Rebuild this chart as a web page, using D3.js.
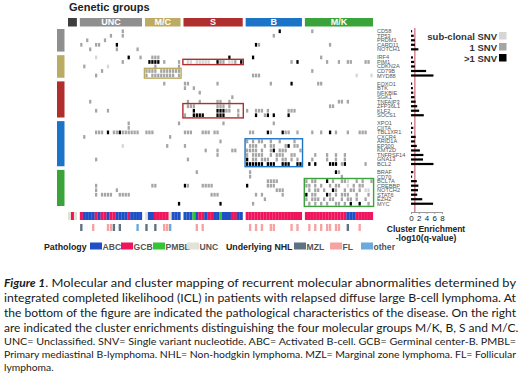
<!DOCTYPE html>
<html>
<head>
<meta charset="utf-8">
<script src="https://cdn.jsdelivr.net/npm/d3@7"></script>
<style>
  body { margin: 0; background: #fff; }
  svg { display: block; font-family: "Liberation Sans", Arial, sans-serif; }
</style>
</head>
<body>
<div id="container"></div>
<script>
/* DATA */
// patient groups (columns) and gene groups (rows)
const colGroups = ["", "UNC", "M/C", "S", "B", "M/K"];
const colGroupSizes = [3, 21, 12, 20, 19, 23];
const rowGroupSizes = [5, 5, 8, 10, 8];

const genes = [
  "CD58", "TP53", "PRDM1", "CARD11", "NOTCH1",
  "IRF4", "PIM1", "CDKN2A", "CD79B", "MYD88",
  "FOXO1", "BTK", "NFKBIE", "SGK1", "TNFAIP3", "ZFP36L1", "KLF2", "SOCS1",
  "XPO1", "CIITA", "TBL1XR1", "CXCR4", "ARID1A", "EP300", "KMT2D", "TNFRSF14", "GNA13", "BCL2",
  "BRAF", "CD70", "BCL7A", "CREBBP", "NOTCH2", "STAT6", "EZH2", "MYC"
];

// one string per gene, column groups split by "|"
// . = none, s = sub-clonal SNV, g = 1 SNV, b = >1 SNV
const mutations = [
  "...|..............g......|............|....................|...........b.......|..g....................",
  "...|..........g...g......|............|....................|.........g.........|.......................",
  "...|..g.....g............|............|....................|...................|.......................",
  "...|g....gg.....b........|............|....................|...bg..............|........g..............",
  "...|...g........g......g.|............|....................|...................|.......................",

  "...|.....s..........b...g|..ggg.......|...............b....|..b................|.....g.................",
  "...|..............g......|.bbbb.g....g|.ss.sssss..bgg.ssg.b|...............g.b.|.......g...g..gg....gg.",
  "...|.g.......s...........|...g.......g|....................|...................|.......................",
  "...|.......g.............|gggg.ggggggg|....................|...................|..g....................",
  "...|.....g...............|g.gggggggg.g|....................|..ggg..............|.................s....s",

  "...|.....................|......g.....|gg.........g........|........g......b...|....gg.................",
  "...|.....................|............|g..g................|...................|.......................",
  "...|.....................|............|.....g..............|...................|.......................",
  "...|.....................|............|................g...|...................|.......................",
  "...|...g.................|............|.g...g.....gg..g....|...................|...........gg.g........",
  "...|.....................|............|.ggg.......ggg.g....|...................|........gg.............",
  "...|.....g...g...........|............|...b.......bbbgg..g.|g..ggg.g......ggg..|.......................",
  "...|.....................|............|g..bbbb....bbb....g.|...b..gb.b....b....|.......................",

  "...|................g....|...........g|.............g......|.........g.........|.......................",
  "...|................g....|............|....................|...................|.......................",
  "...|.....ggg.b.ggbgggggg.|ggg.........|ggg...ggg.gg........|.gg....bg...bgg..g.|..g..g..b.g...g...ggg..",
  "...|.g...................|........g...|....................|...................|.......................",
  "...|.....................|............|............g.......|g.g.gg..g..g....g..|.......................",
  "...|..............s......|.......g....|g...................|.ggg..g.gg...gb.gg.|.......................",
  "...|.....................|............|.......g...g....gg..|gggg.g..gb.ggg....g|.......................",
  "...|.....................|............|...........g........|g.gggg..g.ggg..gg..|...g...g..g..g.........",
  "...|.....g...............|............|.g..................|b.gg.ggg..g.gg.g.g.|..g....g..g..g.........",
  "...|.....................|............|....................|bbbbbb.bbb..bbb..bb|.b.b....bbb.gb......g..",

  "...|.....................|............|....g...............|.g.................|..........bg...........",
  "...|.....................|............|....................|.g.................|............g..........",
  "...|.....................|............|....................|.......gggg........|g.gg...b.g..ggs..g.g..g",
  "...|.....g...............|..gg........|bg....gggg..........|b......ggg.........|gg.g.g..g.gg..s.g.gg...",
  "...|.....g......g........|............|....................|..........ggg......|.g.gg.g..bg..g.gg.g.ss.",
  "...|.....g.gggg..gggg....|............|.........ggg........|...g.g......g......|b.gg...bg.g.ggg..g...g.",
  "...|.....................|............|....................|......g............|g.ggg.g.gg..g.gg.g..g..",
  "...|.....................|...........b|............b.......|..g................|.g.g.g.g..gg.g.b..b..g."
];

// cluster enrichment, -log10(q-value)
const enrichment = [
  0.3, 0.7, 1.0, 1.0, 1.9,
  0.5, 0.8, 1.0, 3.9, 5.8,
  0.3, 0.5, 0.6, 0.9, 1.2, 1.6, 2.1, 3.3,
  0.2, 0.6, 0.3, 1.2, 1.0, 1.5, 2.3, 3.2, 3.1, 5.8,
  0.6, 0.3, 1.5, 1.9, 1.8, 1.6, 2.9, 5.7
];
const enrichTicks = [0, 2, 4, 6, 8];
const enrichThreshold = 1;

// A = ABC, G = GCB, P = PMBL, U = UNC
const pathology = "UGU|GAAAAGAGGAGGAAAAGAAAA|UAAGGGGGUAAA|AAAPAGGAGGAAPAAAGGAA|GGGGGGGGGGGGGGGGGGG|GGGGGGGGGGGGGGAAAGGGGGG";
// M = MZL, F = FL, O = other
const nhl = "...|M...F....FFM.M.....O.|M..M..FFO...|....F.F.............|.F.F.F..FF.....F.F.|.F.F.F.FF.FF..M...F....";

// enriched blocks: column group, row group, first/last row inside the group
const enrichBoxes = [
  { cg: 2, rg: 1, r0: 3, r1: 4 },
  { cg: 3, rg: 1, r0: 1, r1: 1 },
  { cg: 3, rg: 2, r0: 5, r1: 7 },
  { cg: 4, rg: 3, r0: 4, r1: 9 },
  { cg: 5, rg: 4, r0: 2, r1: 7 }
];

const captionMain = [
  "Molecular and cluster mapping of recurrent molecular abnormalities determined by",
  "integrated completed likelihood (ICL) in patients with relapsed diffuse large B-cell lymphoma. At",
  "the bottom of the figure are indicated the pathological characteristics of the disease. On the right",
  "are indicated the cluster enrichments distinguishing the four molecular groups M/K, B, S and M/C."
];
const captionNotes = [
  "UNC= Unclassified. SNV= Single variant nucleotide. ABC= Activated B-cell. GCB= Germinal center-B. PMBL=",
  "Primary mediastinal B-lymphoma. NHL= Non-hodgkin lymphoma. MZL= Marginal zone lymphoma. FL= Follicular",
  "lymphoma."
];

/* COLOURS */
const colGroupColor = ["#3d3d3d", "#8f8f8f", "#bcab62", "#b02e2e", "#1c74c8", "#3aa33a"];
const rowGroupColor = ["#8f8f8f", "#bcab62", "#b02e2e", "#1c74c8", "#3aa33a"];
const snvColor = { s: "#d6d6d6", g: "#a5a5a5", b: "#000000" };
const pathColor = { A: "#1f4fc4", G: "#f0145c", P: "#35c435", U: "#e2e2d6" };
const nhlColor = { M: "#5f7283", F: "#f6a3a3", O: "#6aaadc" };

const width = 520, height = 374;
const svg = d3.select("#container").append("svg")
  .attr("width", width).attr("height", height);

/* LAYOUT HELPERS */
const colGap = 1.0, rowGap = 0.8;
const nCols = d3.sum(colGroupSizes), nRows = d3.sum(rowGroupSizes);

// columns: unit position = index + groupIndex * gap
const cols = [];
colGroupSizes.forEach((n, g) => { for (let k = 0; k < n; k++) cols.push({ g, k, u: cols.length + g * colGap }); });
const rows = [];
rowGroupSizes.forEach((n, g) => { for (let k = 0; k < n; k++) rows.push({ g, k, v: rows.length + g * rowGap }); });

const xScale = d3.scaleLinear().domain([0, nCols + (colGroupSizes.length - 1) * colGap]).range([68, 373]);
const yScale = d3.scaleLinear().domain([0, nRows + (rowGroupSizes.length - 1) * rowGap]).range([29, 206]);
const cw = xScale(1) - xScale(0), rh = yScale(1) - yScale(0);

const colStart = colGroupSizes.map((n, g) => d3.sum(colGroupSizes.slice(0, g)));
const rowStart = rowGroupSizes.map((n, g) => d3.sum(rowGroupSizes.slice(0, g)));

function segs(str, sizes) {
  return str.split("|").map((s, i) => s.padEnd(sizes[i], ".").slice(0, sizes[i])).join("");
}

/* TITLE */
svg.append("text").attr("x", 69).attr("y", 11)
  .attr("font-size", 11).attr("font-weight", "bold").attr("fill", "#222")
  .text("Genetic groups");

/* TOP GROUP BAR */
const topBar = svg.append("g");
colGroupSizes.forEach((n, g) => {
  const c0 = cols[colStart[g]], c1 = cols[colStart[g] + n - 1];
  const x0 = xScale(c0.u), x1 = xScale(c1.u + 1);
  topBar.append("rect").attr("x", x0).attr("y", 18).attr("width", x1 - x0).attr("height", 8.5)
    .attr("fill", colGroupColor[g]);
  topBar.append("text").attr("x", (x0 + x1) / 2).attr("y", 25.3)
    .attr("text-anchor", "middle").attr("font-size", 9).attr("font-weight", "bold")
    .attr("fill", "#fff").text(colGroups[g]);
});

/* LEFT GROUP BAR */
rowGroupSizes.forEach((n, g) => {
  const r0 = rows[rowStart[g]], r1 = rows[rowStart[g] + n - 1];
  svg.append("rect").attr("x", 57).attr("y", yScale(r0.v))
    .attr("width", 7.5).attr("height", yScale(r1.v + 1) - yScale(r0.v))
    .attr("fill", rowGroupColor[g]);
});

/* HEATMAP */
const cells = [];
mutations.forEach((str, r) => {
  const s = segs(str, colGroupSizes);
  for (let c = 0; c < s.length; c++) if (s[c] !== ".") cells.push({ r, c, t: s[c] });
});
svg.append("g").selectAll("rect").data(cells).join("rect")
  .attr("x", d => xScale(cols[d.c].u) + 0.35)
  .attr("y", d => yScale(rows[d.r].v) + 0.4)
  .attr("width", cw - 0.7)
  .attr("height", rh - 0.8)
  .attr("fill", d => snvColor[d.t]);

/* ENRICHMENT BOXES */
enrichBoxes.forEach(b => {
  const c0 = cols[colStart[b.cg]], c1 = cols[colStart[b.cg] + colGroupSizes[b.cg] - 1];
  const r0 = rows[rowStart[b.rg] + b.r0], r1 = rows[rowStart[b.rg] + b.r1];
  const x0 = xScale(c0.u) - 0.6, x1 = xScale(c1.u + 1) + 0.6;
  const y0 = yScale(r0.v) - 0.4, y1 = yScale(r1.v + 1) + 0.4;
  svg.append("rect").attr("x", x0).attr("y", y0).attr("width", x1 - x0).attr("height", y1 - y0)
    .attr("fill", "none").attr("stroke", colGroupColor[b.cg]).attr("stroke-width", 1.4);
});

/* GENE LABELS */
svg.append("g").selectAll("text").data(genes).join("text")
  .attr("x", 377)
  .attr("y", (d, i) => yScale(rows[i].v + 0.5) + 2)
  .attr("font-size", 5.6).attr("fill", "#555")
  .text(d => d);

/* ENRICHMENT BAR CHART */
const xBar = d3.scaleLinear().domain([0, 8]).range([411, 442]);
svg.append("line")
  .attr("x1", xBar(enrichThreshold)).attr("x2", xBar(enrichThreshold))
  .attr("y1", 28).attr("y2", 212)
  .attr("stroke", "#c0485a").attr("stroke-width", 1);
svg.append("g").selectAll("rect").data(enrichment).join("rect")
  .attr("x", xBar(0))
  .attr("y", (d, i) => yScale(rows[i].v + 0.5) - 1.1)
  .attr("width", d => xBar(d) - xBar(0))
  .attr("height", 2.2)
  .attr("fill", "#000");

const xAxis = d3.axisBottom(xBar).tickValues(enrichTicks).tickSize(2).tickPadding(1);
const ax = svg.append("g").attr("transform", "translate(0,212)").call(xAxis);
ax.select(".domain").attr("stroke", "#999");
ax.selectAll(".tick line").attr("stroke", "#999");
ax.selectAll("text").attr("font-size", 8).attr("fill", "#222")
  .attr("font-family", "Liberation Sans, Arial, sans-serif");

svg.append("text").attr("x", 426).attr("y", 232).attr("text-anchor", "middle")
  .attr("font-size", 8.5).attr("font-weight", "bold").attr("fill", "#222").text("Cluster Enrichment");
svg.append("text").attr("x", 426).attr("y", 241).attr("text-anchor", "middle")
  .attr("font-size", 8.5).attr("font-weight", "bold").attr("fill", "#222").text("-log10(q-value)");

/* SNV LEGEND */
const snvLegend = [["sub-clonal SNV", "s", 40], ["1 SNV", "g", 51], [">1 SNV", "b", 62]];
snvLegend.forEach(([lab, t, y]) => {
  svg.append("text").attr("x", 497).attr("y", y).attr("text-anchor", "end")
    .attr("font-size", 9.5).attr("font-weight", "bold").attr("fill", "#333").text(lab);
  svg.append("rect").attr("x", 499).attr("y", y - 8).attr("width", 7.5).attr("height", 7.5)
    .attr("fill", snvColor[t]);
});

/* PATHOLOGY / NHL STRIPS */
const path = segs(pathology, colGroupSizes);
const nh = segs(nhl, colGroupSizes);
svg.append("g").selectAll("rect").data(cols).join("rect")
  .attr("x", d => xScale(d.u)).attr("y", 212)
  .attr("width", cw + 0.1).attr("height", 8)
  .attr("fill", (d, i) => pathColor[path[i]]);
svg.append("g").selectAll("rect").data(cols.filter((d, i) => nh[i] !== ".")).join("rect")
  .attr("x", d => xScale(d.u) + 0.3).attr("y", 224)
  .attr("width", cw - 0.6).attr("height", 7)
  .attr("fill", d => nhlColor[nh[cols.indexOf(d)]]);

/* BOTTOM LEGEND */
const ly = 250;
function legendTitle(x, t) {
  svg.append("text").attr("x", x).attr("y", ly).attr("font-size", 8.8)
    .attr("font-weight", "bold").attr("fill", "#222").text(t);
}
function legendItem(x, col, t) {
  svg.append("rect").attr("x", x).attr("y", ly - 7.5).attr("width", 12).attr("height", 7).attr("fill", col);
  svg.append("text").attr("x", x + 12.5).attr("y", ly).attr("font-size", 8.6)
    .attr("font-weight", "bold").attr("fill", "#555").text(t);
}
legendTitle(44, "Pathology");
legendItem(90, pathColor.A, "ABC");
legendItem(121, pathColor.G, "GCB");
legendItem(153, pathColor.P, "PMBL");
legendItem(187, pathColor.U, "UNC");
legendTitle(226, "Underlying NHL");
legendItem(294, nhlColor.M, "MZL");
legendItem(330, nhlColor.F, "FL");
legendItem(361, nhlColor.O, "other");

/* CAPTION */
const cap = svg.append("g").attr("font-family", "Lato, 'Open Sans', sans-serif").attr("fill", "#1a1a1a");
const left = 4, right = 516;
const fig = cap.append("text").attr("x", left).attr("y", 287)
  .attr("font-size", 12).attr("font-weight", "bold").attr("font-style", "italic").text("Figure 1");
const figW = fig.node().getComputedTextLength();
captionMain.forEach((line, i) => {
  const x0 = i === 0 ? left + figW : left;
  const t = cap.append("text").attr("x", x0).attr("y", 287 + i * 15)
    .attr("font-size", 12).text(i === 0 ? ". " + line : line);
  if (i < captionMain.length - 1) t.attr("textLength", right - x0).attr("lengthAdjust", "spacingAndGlyphs");
});
captionNotes.forEach((line, i) => {
  const t = cap.append("text").attr("x", left).attr("y", 345 + i * 13)
    .attr("font-size", 10.3).text(line);
  if (i < captionNotes.length - 1) t.attr("textLength", right - left).attr("lengthAdjust", "spacingAndGlyphs");
});
</script>
</body>
</html>
